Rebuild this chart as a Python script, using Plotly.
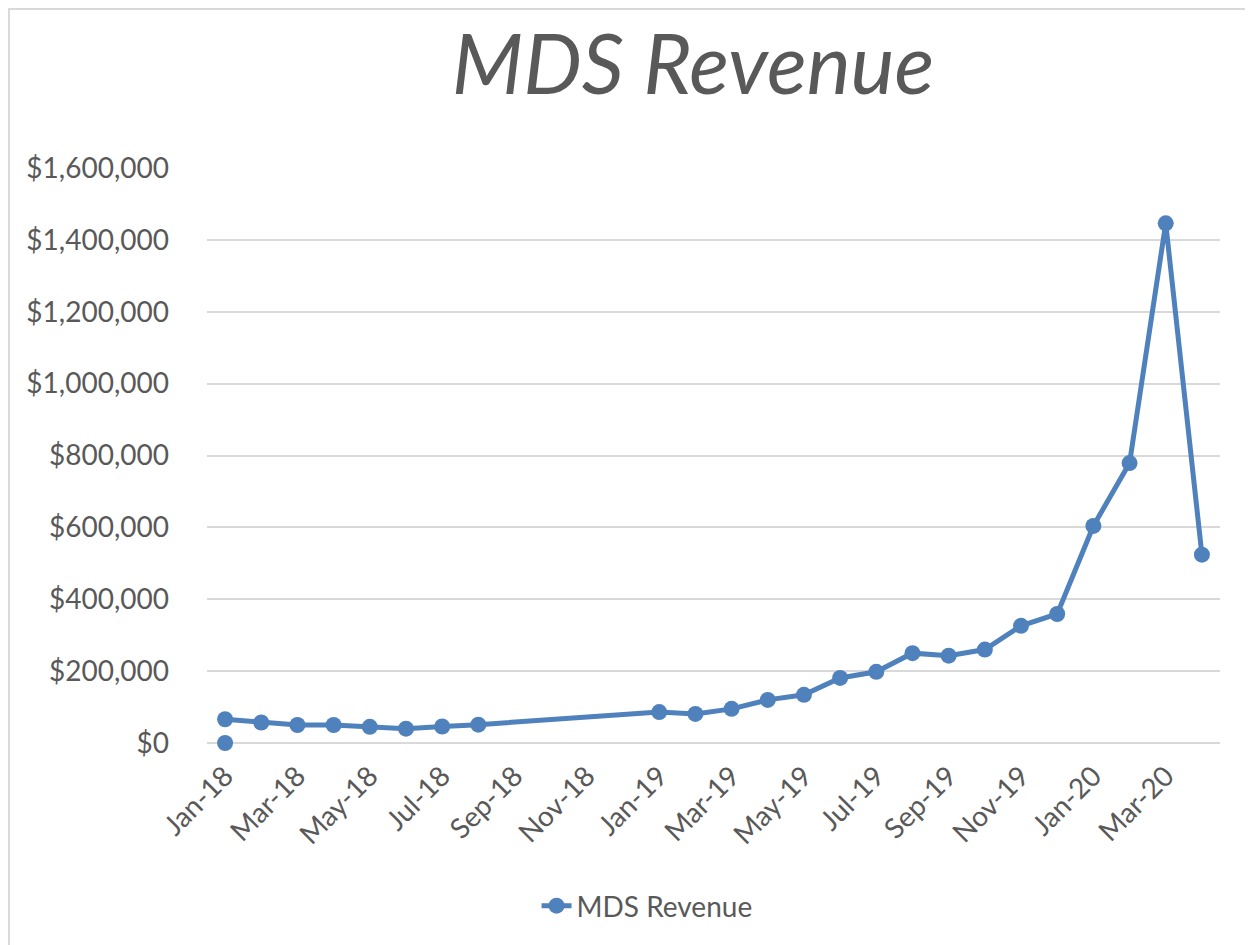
import plotly.graph_objects as go

months = ["Jan-18", "Feb-18", "Mar-18", "Apr-18", "May-18", "Jun-18", "Jul-18", "Aug-18",
          "Sep-18", "Oct-18", "Nov-18", "Dec-18",
          "Jan-19", "Feb-19", "Mar-19", "Apr-19", "May-19", "Jun-19", "Jul-19", "Aug-19",
          "Sep-19", "Oct-19", "Nov-19", "Dec-19",
          "Jan-20", "Feb-20", "Mar-20", "Apr-20"]
revenue = [66000, 57000, 50000, 50000, 45000, 40000, 46000, 51000,
           None, None, None, None,
           86000, 81000, 95000, 120000, 134000, 181000, 198000, 250000,
           243000, 260000, 326000, 359000,
           604000, 779000, 1446000, 524000]
extra_month = ["Jan-18"]
extra_value = [0]
tick_labels = ["Jan-18", "Mar-18", "May-18", "Jul-18", "Sep-18", "Nov-18", "Jan-19", "Mar-19",
               "May-19", "Jul-19", "Sep-19", "Nov-19", "Jan-20", "Mar-20"]
y_ticks = [0, 200000, 400000, 600000, 800000, 1000000, 1200000, 1400000, 1600000]

BLUE = "#4F81BD"
TXT = "#595959"
FONT = "Lato"

fig = go.Figure()
fig.add_trace(go.Scatter(
    x=months, y=revenue, mode="lines+markers", name="MDS Revenue",
    connectgaps=True, cliponaxis=False,
    line=dict(color=BLUE, width=5),
    marker=dict(color=BLUE, size=16),
))
fig.add_trace(go.Scatter(
    x=extra_month, y=extra_value, mode="markers", showlegend=False,
    cliponaxis=False,
    marker=dict(color=BLUE, size=16),
))

fig.update_layout(
    width=1253, height=945,
    margin=dict(l=199, r=41, t=160, b=210),
    paper_bgcolor="white", plot_bgcolor="white",
    font=dict(family=FONT, color=TXT, size=28),
    title=dict(text="<i>MDS Revenue</i>", x=0.5467, xanchor="center",
               y=0.940, yanchor="middle",
               font=dict(family=FONT, size=83, color=TXT)),
    showlegend=True,
    legend=dict(orientation="h", x=0.4344, xanchor="center", y=-0.2835, yanchor="middle",
                font=dict(family=FONT, size=28, color=TXT)),
    shapes=[dict(type="rect", xref="paper", yref="paper",
                 x0=-0.1955, x1=1.06, y0=-0.4, y1=1.2765,
                 line=dict(color="#d9d9d9", width=2), fillcolor="rgba(0,0,0,0)", layer="below")],
)
fig.update_xaxes(type="category", categoryorder="array", categoryarray=months,
                 tickmode="array", tickvals=tick_labels, ticktext=tick_labels,
                 tickangle=-45, showgrid=False, showline=False, zeroline=False,
                 range=[-0.5, len(months) - 0.5], ticklabelstandoff=10,
                 tickfont=dict(family=FONT, size=28, color=TXT))
fig.update_yaxes(range=[0, 1600000], tickvals=y_ticks, tickformat="$,.0f",
                 showgrid=True, gridcolor="#d9d9d9", gridwidth=2,
                 zeroline=True, zerolinecolor="#d9d9d9", zerolinewidth=2,
                 showline=False, ticklabelstandoff=37,
                 tickfont=dict(family=FONT, size=28, color=TXT))

fig.write_html("out.html")
